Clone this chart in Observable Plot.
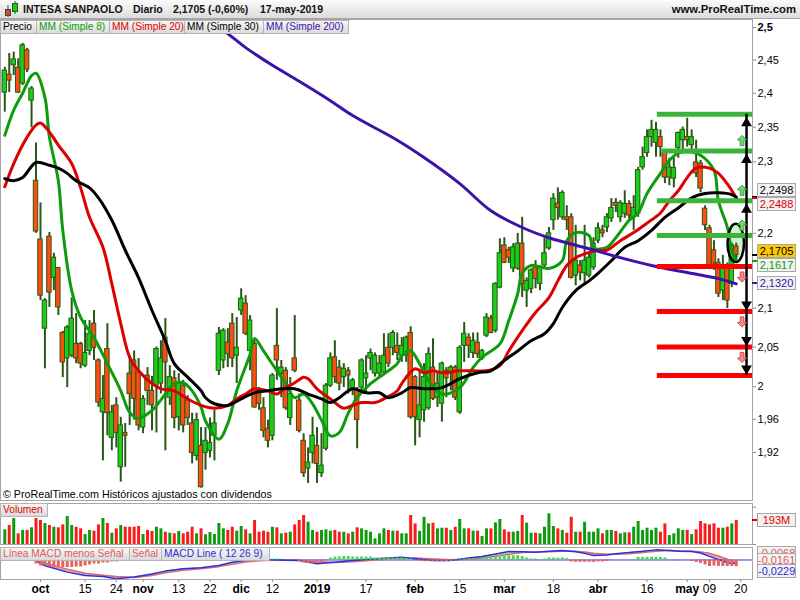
<!DOCTYPE html>
<html>
<head>
<meta charset="utf-8">
<script src="https://cdn.jsdelivr.net/npm/d3@7"></script>
<script src="https://cdn.jsdelivr.net/npm/@observablehq/plot@0.6"></script>
<style>
  html, body { margin: 0; padding: 0; background: #fff; }
  #root { position: relative; width: 800px; height: 600px; overflow: hidden; background: #fff;
          font-family: "Liberation Sans", Arial, sans-serif; color: #000; }
  .hdr { position: absolute; left: 0; top: 0; width: 800px; height: 18px;
         background: linear-gradient(#fbfbfb, #dcdcdc); border-bottom: 1px solid #a6a6a6; }
  .htxt { position: absolute; top: 3px; font-weight: bold; font-size: 10.5px; line-height: 13px; white-space: nowrap; color: #111; }
  .box { position: absolute; height: 12px; line-height: 12px; font-size: 10.2px; border: 1px solid #b4b4b4;
         background: linear-gradient(#f7f7f7, #dadada); padding: 0 0 0 2px; white-space: nowrap; overflow: hidden; box-sizing: content-box; }
  .val { position: absolute; left: 757px; width: 37px; height: 12px; line-height: 12px; font-size: 11px; text-align: center;
         border: 1px solid #a8a8a8; background: #f2f2f2; white-space: nowrap; overflow: hidden; }
  .mark { position: absolute; left: 752px; width: 5px; height: 2px; }
  .cap { position: absolute; left: 3px; top: 487px; font-size: 10.7px; line-height: 14px; white-space: nowrap; }
</style>
</head>
<body>
<div id="root"></div>
<script>
// ---------------- DATA (daily, 19-sep-2018 .. 17-may-2019, index = trading day) ----------------
const open = [
  2.401, 2.428, 2.442, 2.4385, 2.4145, 2.465, 2.389, 2.273, 2.1915, 2.0735,
  2.1955, 2.140, 2.153, 2.068, 2.0355, 2.039, 2.054, 2.054, 2.0265, 2.045,
  2.080, 2.033, 1.9685, 2.0475, 1.9375, 1.977, 1.9025, 1.9435, 2.0165, 2.033,
  2.018, 1.950, 2.014, 1.995, 2.0015, 2.004, 2.062, 1.9865, 2.0105, 1.9625,
  2.0015, 1.983, 1.955, 1.916, 1.928, 1.9195, 1.922, 1.940, 2.020, 2.033,
  2.0555, 2.080, 2.039, 2.097, 2.106, 2.045, 2.054, 1.995, 1.9735, 1.9485,
  1.940, 2.0515, 2.0165, 2.020, 1.9615, 2.0355, 1.983, 1.934, 1.901, 1.9195,
  1.928, 1.8955, 1.9245, 2.0015, 2.037, 2.024, 2.012, 2.020, 1.9975, 1.995,
  1.999, 2.0105, 2.0355, 2.0165, 2.0165, 2.018, 2.049, 2.049, 2.0515, 2.039,
  2.039, 2.068, 2.012, 1.959, 1.971, 1.9735, 2.024, 1.9865, 1.979, 2.020,
  2.0165, 2.024, 1.9685, 2.0515, 2.062, 2.0425, 2.0555, 2.0355, 2.0645, 2.0865,
  2.071, 2.127, 2.1835, 2.177, 2.1525, 2.1525, 2.186, 2.123, 2.1255, 2.154,
  2.132, 2.1565, 2.1795, 2.218, 2.241, 2.222, 2.222, 2.222, 2.143, 2.1565,
  2.146, 2.143, 2.154, 2.190, 2.204, 2.208, 2.2205, 2.242, 2.222, 2.227,
  2.2405, 2.222, 2.227, 2.292, 2.3125, 2.3355, 2.327, 2.3355, 2.3125, 2.2775,
  2.276, 2.320, 2.331, 2.3355, 2.324, 2.299, 2.2975, 2.234, 2.207, 2.177,
  2.160, 2.123, 2.1565, 2.132, 2.182
];
const high = [
  2.439, 2.460, 2.462, 2.452, 2.4755, 2.468, 2.410, 2.327, 2.242, 2.1125,
  2.201, 2.173, 2.154, 2.070, 2.0775, 2.1135, 2.093, 2.056, 2.084, 2.084,
  2.097, 2.035, 2.014, 2.080, 1.977, 1.9865, 1.9625, 1.955, 2.039, 2.045,
  2.0355, 1.989, 2.024, 2.013, 2.050, 2.058, 2.0865, 2.0265, 2.020, 2.0165,
  2.008, 1.989, 1.9675, 1.9675, 1.950, 1.950, 1.9615, 1.971, 2.075, 2.0735,
  2.0735, 2.093, 2.088, 2.1255, 2.1165, 2.0905, 2.058, 1.999, 1.9865, 1.959,
  2.0165, 2.0995, 2.033, 2.024, 2.0115, 2.0905, 1.991, 1.9425, 1.9255, 1.9625,
  1.950, 1.9425, 2.004, 2.0425, 2.058, 2.033, 2.029, 2.024, 2.0105, 1.999,
  2.035, 2.039, 2.0475, 2.0425, 2.039, 2.067, 2.067, 2.071, 2.068, 2.062,
  2.064, 2.076, 2.014, 2.020, 2.029, 2.049, 2.0605, 2.018, 2.031, 2.024,
  2.0265, 2.0265, 2.0515, 2.0815, 2.067, 2.068, 2.068, 2.047, 2.093, 2.0905,
  2.1335, 2.1925, 2.194, 2.181, 2.186, 2.200, 2.222, 2.140, 2.152, 2.163,
  2.156, 2.194, 2.208, 2.255, 2.263, 2.259, 2.238, 2.227, 2.211, 2.163,
  2.211, 2.173, 2.194, 2.214, 2.211, 2.227, 2.248, 2.248, 2.245, 2.259,
  2.245, 2.252, 2.292, 2.321, 2.346, 2.360, 2.357, 2.346, 2.314, 2.305,
  2.3065, 2.343, 2.350, 2.363, 2.346, 2.331, 2.302, 2.238, 2.211, 2.190,
  2.1655, 2.170, 2.160, 2.1865, 2.1865
];
const low = [
  2.372, 2.401, 2.4265, 2.3995, 2.4115, 2.431, 2.349, 2.200, 2.110, 2.0225,
  2.101, 2.123, 2.0905, 2.0115, 1.999, 2.0365, 2.029, 2.0225, 2.024, 2.039,
  2.033, 1.9745, 1.910, 1.940, 1.922, 1.9255, 1.885, 1.9025, 1.9525, 1.959,
  1.946, 1.9425, 1.977, 1.946, 1.9435, 1.991, 1.922, 1.977, 1.9485, 1.946,
  1.9435, 1.9525, 1.9065, 1.910, 1.878, 1.899, 1.9135, 1.910, 2.014, 2.0225,
  2.024, 2.024, 2.004, 2.0905, 2.0645, 2.020, 1.9735, 1.971, 1.9375, 1.9255,
  1.934, 2.008, 1.9865, 1.971, 1.9525, 2.0175, 1.9435, 1.8905, 1.8835, 1.9065,
  1.8835, 1.8905, 1.922, 1.999, 2.004, 1.995, 1.999, 1.991, 1.989, 1.9245,
  1.9925, 1.991, 2.020, 2.012, 2.0105, 2.016, 2.024, 2.039, 2.033, 2.0305,
  2.0305, 1.960, 1.928, 1.9375, 1.9565, 1.971, 1.983, 1.9745, 1.9565, 1.9865,
  1.995, 1.983, 1.966, 2.0305, 2.0355, 2.0355, 2.0355, 2.033, 2.062, 2.067,
  2.068, 2.1255, 2.159, 2.159, 2.147, 2.150, 2.114, 2.101, 2.119, 2.1255,
  2.123, 2.1525, 2.177, 2.204, 2.218, 2.218, 2.204, 2.1385, 2.1295, 2.136,
  2.132, 2.140, 2.150, 2.186, 2.194, 2.201, 2.215, 2.2285, 2.215, 2.2205,
  2.218, 2.204, 2.222, 2.288, 2.3065, 2.321, 2.3065, 2.3065, 2.269, 2.266,
  2.263, 2.305, 2.317, 2.321, 2.317, 2.2775, 2.256, 2.204, 2.1525, 2.150,
  2.114, 2.110, 2.0995, 2.127, 2.160
];
const close = [
  2.434, 2.419, 2.451, 2.401, 2.4725, 2.4355, 2.407, 2.2025, 2.1165, 2.110,
  2.1205, 2.167, 2.101, 2.0305, 2.075, 2.0865, 2.0355, 2.029, 2.0425, 2.067,
  2.049, 1.9805, 1.985, 1.9675, 1.9685, 1.9435, 1.9525, 1.940, 1.991, 1.985,
  1.9525, 1.985, 1.995, 1.977, 2.0475, 2.0355, 2.0305, 2.012, 1.9615, 2.004,
  1.9525, 1.9615, 1.9195, 1.959, 1.879, 1.934, 1.9315, 1.955, 2.067, 2.071,
  2.041, 2.0355, 2.049, 2.1125, 2.067, 2.084, 1.9745, 1.979, 1.946, 1.934,
  2.014, 2.033, 2.024, 1.9735, 1.991, 2.020, 1.946, 1.8955, 1.908, 1.940,
  1.9065, 1.9045, 2.0015, 2.0355, 2.012, 2.004, 2.0225, 2.014, 2.008, 1.959,
  2.033, 2.0165, 2.0425, 2.039, 2.029, 2.039, 2.029, 2.068, 2.0425, 2.0515,
  2.062, 1.9625, 1.9625, 1.977, 2.012, 2.041, 1.985, 2.004, 2.029, 2.0105,
  2.024, 1.9865, 2.049, 2.067, 2.0515, 2.058, 2.041, 2.045, 2.088, 2.068,
  2.132, 2.173, 2.160, 2.167, 2.181, 2.186, 2.132, 2.136, 2.150, 2.1385,
  2.154, 2.173, 2.200, 2.248, 2.235, 2.256, 2.218, 2.140, 2.163, 2.147,
  2.163, 2.167, 2.186, 2.207, 2.200, 2.222, 2.235, 2.238, 2.242, 2.2405,
  2.2245, 2.235, 2.288, 2.3065, 2.3355, 2.346, 2.346, 2.321, 2.2775, 2.292,
  2.291, 2.3415, 2.346, 2.331, 2.3355, 2.2835, 2.262, 2.211, 2.1565, 2.159,
  2.119, 2.1565, 2.110, 2.1836, 2.1705
];
// volume, millions of shares
const volume = [
  118,153,209,86,113,113,134,209,193,169,
  153,139,134,158,225,153,139,126,80,113,
  107,158,209,169,91,126,153,139,139,139,
  145,80,113,105,139,126,99,91,86,105,
  86,99,139,86,126,78,96,80,169,126,
  113,139,107,145,118,86,193,99,107,99,
  139,134,86,91,99,158,193,233,179,113,
  99,113,118,107,113,99,99,86,99,134,
  126,113,99,46,86,126,113,107,107,86,
  86,233,166,105,219,166,171,126,131,131,
  113,139,201,126,126,107,107,64,126,126,
  174,201,118,99,99,105,233,171,91,91,
  86,139,247,145,126,113,91,219,99,99,
  179,99,99,126,86,113,113,105,86,94,
  94,139,185,113,131,113,131,99,166,72,
  86,126,113,113,80,118,185,166,158,166,
  131,131,139,166,193
];
// moving averages (day index, value)
const ma8Day = [0,2,4,6,7,9,10,12,13,15,17,20,23,26,28,30,33,36,38,40,42,44,45,48,50,52,55,56,58,61,63,65,67,69,71,73,75,77,79,82,84,86,88,89,91,93,95,98,102,105,107,111,113,115,116,118,122,125,126,128,131,132,135,137,140,142,144,147,149,151,154,156,159,160,162,163,164];
const ma8Val = [2.338,2.375,2.400,2.4265,2.430,2.3935,2.3355,2.273,2.204,2.123,2.088,2.062,2.029,1.995,1.9685,1.961,1.971,1.991,2.004,2.005,1.995,1.975,1.958,1.936,1.955,1.995,2.041,2.061,2.045,2.020,2.004,1.9865,1.991,1.979,1.959,1.940,1.944,1.9675,1.9865,2.004,2.012,2.020,2.029,2.039,2.045,2.029,2.008,1.991,1.999,2.024,2.037,2.054,2.084,2.119,2.146,2.1565,2.1525,2.163,2.190,2.201,2.197,2.180,2.181,2.194,2.218,2.228,2.255,2.2835,2.302,2.3125,2.314,2.3095,2.288,2.245,2.208,2.177,2.1617];
const ma20Day = [0,2,5,7,8,10,12,15,17,19,22,24,26,28,30,33,35,38,41,44,47,50,52,54,56,59,61,63,65,67,68,70,73,76,78,80,83,85,88,89,92,94,96,98,102,105,108,111,113,116,119,122,124,126,128,131,133,135,138,141,144,147,149,151,153,155,158,160,162,164];
const ma20Val = [2.2645,2.2975,2.3355,2.353,2.356,2.343,2.324,2.2975,2.263,2.222,2.181,2.132,2.080,2.037,2.020,2.004,1.9975,1.995,1.985,1.977,1.9735,1.977,1.985,1.991,1.9975,1.995,1.991,1.999,2.005,2.012,2.010,1.9975,1.985,1.9735,1.977,1.9805,1.9805,1.985,1.995,2.004,2.0225,2.0175,2.020,2.0175,2.020,2.020,2.020,2.0265,2.045,2.071,2.0945,2.114,2.136,2.1565,2.167,2.174,2.177,2.177,2.190,2.201,2.214,2.228,2.245,2.259,2.2775,2.291,2.291,2.2835,2.2685,2.2488];
const ma30Day = [0,2,4,7,10,12,14,16,19,21,24,27,30,33,36,38,41,44,45,47,50,53,56,59,62,65,68,71,73,75,78,81,84,86,89,91,94,98,102,106,109,112,115,118,121,123,125,128,131,133,136,139,142,145,148,151,154,157,160,163,164];
const ma30Val = [2.276,2.273,2.2775,2.299,2.295,2.291,2.2835,2.273,2.263,2.249,2.218,2.177,2.140,2.097,2.058,2.029,2.012,1.995,1.9865,1.979,1.977,1.985,1.9925,1.995,1.9975,1.9975,1.991,1.985,1.9805,1.9865,1.9975,1.9925,1.9925,1.9865,1.9925,1.999,1.9975,1.999,2.010,2.0175,2.020,2.033,2.045,2.058,2.067,2.080,2.101,2.123,2.136,2.146,2.163,2.181,2.190,2.204,2.222,2.235,2.249,2.255,2.256,2.2535,2.2498];
const ma200Day = [44,49,54,60,66,73,78,88,94,102,109,116,122,131,138,145,153,160,164];
const ma200Val = [2.515,2.4955,2.469,2.442,2.418,2.389,2.367,2.331,2.306,2.269,2.231,2.208,2.194,2.179,2.167,2.1565,2.147,2.139,2.132];
// MACD (12 26 9)
const macdDay = [0,4,7,9,14,18,22,25,29,33,36,40,44,48,51,54,57,60,63,66,70,74,78,81,85,89,92,96,100,104,107,111,113,116,119,122,125,128,130,132,135,137,140,143,146,149,151,154,156,158,160,162,164];
const macdVal = [0.035,0.04,-0.005,-0.035,-0.073,-0.094,-0.1,-0.113,-0.103,-0.085,-0.067,-0.053,-0.046,-0.033,-0.014,-0.003,0.003,0.001,-0.001,-0.003,-0.023,-0.013,-0.003,0.003,0.01,0.016,0.008,-0.003,-0.003,0.012,0.021,0.041,0.051,0.05,0.047,0.052,0.057,0.05,0.04,0.027,0.03,0.037,0.045,0.052,0.061,0.057,0.053,0.051,0.042,0.022,0.002,-0.017,-0.0229];
const signalVal = [0.03,0.035,0.01,-0.02,-0.055,-0.08,-0.092,-0.1,-0.105,-0.093,-0.077,-0.062,-0.052,-0.04,-0.025,-0.012,-0.004,-0.002,-0.001,-0.001,-0.01,-0.015,-0.01,-0.004,0.004,0.011,0.012,0.006,0.001,0.004,0.012,0.026,0.035,0.045,0.048,0.049,0.053,0.053,0.048,0.04,0.034,0.034,0.038,0.045,0.053,0.057,0.056,0.053,0.049,0.04,0.025,0.005,-0.0161];
const histVal = [
  0.002,0.002,0.002,0.001,0.001,0,-0.001,-0.004,-0.006,-0.006,
  -0.007,-0.007,-0.007,-0.0075,-0.0075,-0.0075,-0.007,-0.007,-0.006,-0.005,
  -0.004,-0.004,-0.003,-0.003,-0.002,-0.002,-0.001,0,0.001,0.002,
  0.003,0.003,0.004,0.004,0.004,0.005,0.005,0.004,0.004,0.004,
  0.004,0.003,0.003,0.003,0.003,0.003,0.003,0.003,0.004,0.004,
  0.003,0.003,0.002,0.002,0.002,0.001,0.001,0,0,0,
  0.001,0.001,0,0,0,0,-0.002,-0.003,-0.0035,-0.0035,
  -0.003,-0.003,-0.001,0.002,0.003,0.003,0.0035,0.0035,0.003,0.003,
  0.003,0.003,0.003,0.002,0.002,0.002,0.002,0.002,0.002,0.002,
  0.0015,0.001,0,-0.001,-0.0017,-0.0017,-0.0017,-0.0017,-0.0017,-0.0015,
  -0.0015,-0.001,0.0005,0.001,0.001,0.001,0.001,0.001,0.0025,0.0025,
  0.0025,0.003,0.0043,0.0043,0.0043,0.0043,0.0035,0.002,0.001,0.001,
  0.0005,0.001,0.002,0.002,0.002,0.002,0.0015,-0.002,-0.0023,-0.0023,
  -0.0023,-0.0023,-0.0023,-0.002,-0.002,-0.0015,-0.0005,0,0,0,
  0,0.0005,0.0027,0.0027,0.0027,0.0027,0.0027,0.0025,0.002,0,
  -0.001,0,0,0,-0.0015,-0.0025,-0.0035,-0.005,-0.0065,-0.006,
  -0.0065,-0.0065,-0.0065,-0.0065,-0.0068
];
// drawn support / resistance levels
const greenLevels = [2.369, 2.3155, 2.245, 2.197];
const greenFrom = [146.3, 147.4, 146.3, 146.3];
const redLevels = [2.155, 2.0957, 2.050, 2.014];
const redFrom = [146.3, 146.3, 146.3, 146.3];
const arrowDay = 166.3, iconDay = 165.3;
const focusDay = 164, focusLow = 2.1604, focusHigh = 2.2124;
// axes
const yTicks = [1.92, 1.96, 2, 2.05, 2.1, 2.2, 2.3, 2.35, 2.4, 2.45, 2.5];
const tickDay = [8,18,25,31,39,46,53,60,70,81,92,102,112,123,133,144,153,158,165];
const tickLabel = ["oct","15","24","nov","13","22","dic","12","2019","17","feb","15","mar","18","abr","16","may","09","20"];
const monthLabels = new Set(["oct","nov","dic","2019","feb","mar","abr","may"]);

// ---------------- STYLE ----------------
const FONT = '"Liberation Sans", Arial, sans-serif';
const OUTLINE = "#2b5716", UPC = "#18d018", DNC = "#ff4c10";
const VUP = "#0e9c0e", VDN = "#fa1c1c";
const C8 = "#0c9c0c", C20 = "#dd0000", C30 = "#000000", C200 = "#3d12a8";
const xDomain = [-0.964, 167.64];
const baseStyle = {background: "transparent", color: "#000", fontFamily: FONT, fontSize: "11px", overflow: "visible"};
const comma = v => String(v).replace(".", ",");

const root = document.getElementById("root");
function put(el, top) { el.style.position = "absolute"; el.style.left = "0px"; el.style.top = top + "px"; root.appendChild(el); return el; }
function div(cls, left, top, text, extra) {
  const d = document.createElement("div"); d.className = cls;
  if (left != null) d.style.left = left + "px";
  if (top != null) d.style.top = top + "px";
  if (text != null) d.textContent = text;
  Object.assign(d.style, extra || {});
  root.appendChild(d); return d;
}

const candles = open.map((o, i) => ({i, open: o, high: high[i], low: low[i], close: close[i], vol: volume[i], hist: histVal[i]}));
const isUp = d => d.close >= d.open;
const series = (days, vals) => days.map((d, k) => ({i: d, v: vals[k]}));
const levels = [
  ...greenLevels.map((v, k) => ({v, from: greenFrom[k], c: "#3ab43a"})),
  ...redLevels.map((v, k) => ({v, from: redFrom[k], c: "#ff0000"}))
];
const arrowSymbol = {
  draw(ctx, size) {
    const s = Math.sqrt(size / Math.PI) / 4;
    ctx.moveTo(0, -6 * s); ctx.lineTo(5 * s, -1 * s); ctx.lineTo(2 * s, -1 * s); ctx.lineTo(2 * s, 5 * s);
    ctx.lineTo(-2 * s, 5 * s); ctx.lineTo(-2 * s, -1 * s); ctx.lineTo(-5 * s, -1 * s); ctx.closePath();
  }
};

// ---------------- PRICE PANEL ----------------
const price = Plot.plot({
  width: 800, height: 481, marginTop: 0, marginRight: 48, marginBottom: 0, marginLeft: 0,
  style: baseStyle,
  x: {domain: xDomain, axis: null},
  y: {type: "log", domain: [1.8636, 2.5125], axis: null},
  marks: [
    Plot.rect([focusDay], {x1: d => d - 1.85, x2: d => d + 1.85, y1: () => focusLow, y2: () => focusHigh, rx: 30, ry: 60, fill: "#b9ecb9", fillOpacity: 0.7}),
    Plot.ruleX(candles, {x: "i", y1: "low", y2: "high", stroke: OUTLINE, strokeWidth: 2}),
    Plot.rect(candles, {x1: d => d.i - 0.5, x2: d => d.i + 0.5, y1: "open", y2: "close", fill: d => isUp(d) ? UPC : DNC, stroke: OUTLINE, strokeWidth: 1}),
    Plot.line(series(ma8Day, ma8Val), {x: "i", y: "v", stroke: C8, strokeWidth: 3, curve: "catmull-rom", clip: true}),
    Plot.line(series(ma20Day, ma20Val), {x: "i", y: "v", stroke: C20, strokeWidth: 3, curve: "catmull-rom", clip: true}),
    Plot.line(series(ma30Day, ma30Val), {x: "i", y: "v", stroke: C30, strokeWidth: 3, curve: "catmull-rom", clip: true}),
    Plot.line(series(ma200Day, ma200Val), {x: "i", y: "v", stroke: C200, strokeWidth: 3, curve: "catmull-rom", clip: true}),
    Plot.rect([focusDay], {x1: d => d - 1.85, x2: d => d + 1.85, y1: () => focusLow, y2: () => focusHigh, rx: 30, ry: 60, fill: "none", stroke: "#000", strokeWidth: 2.5}),
    Plot.ruleY(levels, {y: "v", x1: "from", x2: () => xDomain[1], stroke: "c", strokeWidth: 5}),
    Plot.ruleX([arrowDay], {x: d => d, y1: () => greenLevels[0], y2: () => redLevels[3], stroke: "#000", strokeWidth: 2.5}),
    Plot.dot(greenLevels.slice(0, 3), {x: () => arrowDay, y: d => d, symbol: "triangle", r: 4, fill: "#000", stroke: "none", dy: 9}),
    Plot.dot(redLevels.slice(1), {x: () => arrowDay, y: d => d, symbol: "triangle", r: 4, rotate: 180, fill: "#000", stroke: "none", dy: -7}),
    Plot.dot(greenLevels.slice(1), {x: () => iconDay, y: d => d, symbol: arrowSymbol, r: 3.7, fill: "#72d872", stroke: "#36a036", strokeWidth: 1, dy: -10}),
    Plot.dot(redLevels.slice(0, 3), {x: () => iconDay, y: d => d, symbol: arrowSymbol, r: 3.7, rotate: 180, fill: "#f28c8c", stroke: "#d44a4a", strokeWidth: 1, dy: 10}),
    Plot.axisY({anchor: "right", ticks: yTicks, tickFormat: comma, tickSize: 3, tickPadding: 2, fontSize: 11, stroke: "#8c8c8c", label: null}),
    Plot.frame({stroke: "#a4a4a4"})
  ]
});
put(price, 19);
price.querySelectorAll("text").forEach(t => { if (t.textContent === "2,5") t.setAttribute("font-weight", "bold"); });

// ---------------- VOLUME PANEL ----------------
const vol = Plot.plot({
  width: 800, height: 41, marginTop: 0, marginRight: 48, marginBottom: 0, marginLeft: 0,
  style: baseStyle,
  x: {domain: xDomain, axis: null},
  y: {domain: [0, 329.7], axis: null},
  marks: [
    Plot.ruleX(candles, {x: "i", y1: () => 0, y2: "vol", stroke: d => isUp(d) ? VUP : VDN, strokeWidth: 3}),
    Plot.axisY({anchor: "right", ticks: [0, 300], tickFormat: () => "", tickSize: 3, stroke: "#8c8c8c", label: null}),
    Plot.frame({stroke: "#a4a4a4"})
  ]
});
put(vol, 503);

// ---------------- MACD PANEL ----------------
const macdRows = macdDay.map((d, k) => ({i: d, m: macdVal[k], s: signalVal[k]}));
const fillRows = [];
for (let k = 0; k < macdRows.length - 1; k++) {
  const a = macdRows[k], b = macdRows[k + 1];
  const pos = (a.m - a.s) + (b.m - b.s) >= 0;
  fillRows.push({seg: k, ...a, pos}, {seg: k, ...b, pos});
}
const macd = Plot.plot({
  width: 800, height: 53, marginTop: 0, marginRight: 48, marginBottom: 21, marginLeft: 0,
  style: baseStyle,
  x: {domain: xDomain, axis: null},
  y: {domain: [-0.1175, 0.0753], axis: null},
  marks: [
    Plot.areaY(fillRows, {x: "i", y1: "m", y2: "s", z: "seg", fill: d => d.pos ? "#a8e4a0" : "#f0a2a2"}),
    Plot.ruleY([0], {stroke: "#2a3ae0", strokeWidth: 1}),
    Plot.line(macdRows, {x: "i", y: "s", stroke: "#e06868", strokeWidth: 1.5}),
    Plot.line(macdRows, {x: "i", y: "m", stroke: "#2233e6", strokeWidth: 1.5}),
    Plot.axisX({ticks: tickDay, tickFormat: d => tickLabel[tickDay.indexOf(d)], tickSize: 3, tickPadding: 2, fontSize: 12, stroke: "#8c8c8c", label: null}),
    Plot.frame({stroke: "#a4a4a4"})
  ]
});
put(macd, 547);
macd.querySelectorAll("text").forEach(t => { if (monthLabels.has(t.textContent)) t.setAttribute("font-weight", "bold"); });

const hist = Plot.plot({
  width: 800, height: 32, marginTop: 0, marginRight: 48, marginBottom: 0, marginLeft: 0,
  style: baseStyle,
  x: {domain: xDomain, axis: null},
  y: {domain: [-0.0195, 0.0125], axis: null},
  marks: [
    Plot.ruleX(candles, {x: "i", y1: () => 0, y2: "hist", stroke: d => d.hist >= 0 ? "#4fd84f" : "#e8625e", strokeWidth: 3})
  ]
});
put(hist, 547);

// ---------------- TEXT / LEGENDS ----------------
const hdr = div("hdr", 0, 0);
hdr.innerHTML = '<svg width="16" height="17" style="position:absolute;left:3px;top:1px">' +
  '<line x1="5" y1="4" x2="5" y2="16" stroke="#2b5716"/><rect x="2.5" y="8.5" width="5" height="6" fill="#e04040" stroke="#2b5716"/>' +
  '<line x1="12" y1="0" x2="12" y2="13" stroke="#2b5716"/><rect x="9.5" y="2.5" width="5" height="8" fill="#18d018" stroke="#2b5716"/></svg>';
div("htxt", 23, 3, "INTESA SANPAOLO");
div("htxt", 133, 3, "Diario");
div("htxt", 173, 3, comma(close[close.length - 1]) + " (-0,60%)");
div("htxt", 260, 3, "17-may-2019");
div("htxt", null, 3, "www.ProRealTime.com", {right: "4px", fontSize: "11.3px"});

const legend = [
  ["Precio", 0, 33, "#000"], ["MM (Simple 8)", 36, 70, C8], ["MM (Simple 20)", 109, 72, C20],
  ["MM (Simple 30)", 184, 76, "#000"], ["MM (Simple 200)", 263, 82, C200]
];
legend.forEach(([t, x, w, c]) => div("box", x, 20, t, {width: w + "px", color: c}));
div("box", 0, 503, "Volumen", {width: "44px", color: "#e00000"});
div("box", 0, 547, "Línea MACD menos Señal", {width: "126px", color: "#e05a5a"});
div("box", 129, 547, "Señal", {width: "29px", color: "#e05a5a"});
div("box", 161, 547, "MACD Line ( 12 26 9)", {width: "105px", color: "#2a2adb"});
div("cap", 3, 487, "© ProRealTime.com  Históricos ajustados con dividendos");

// price value boxes on the right axis
const ys = price.scale("y");
const labels = [
  {v: ma30Val[ma30Val.length - 1], color: "#000"},
  {v: ma20Val[ma20Val.length - 1], color: C20},
  {v: close[close.length - 1], color: "#000", bg: "#fcc800"},
  {v: ma8Val[ma8Val.length - 1], color: C8},
  {v: ma200Val[ma200Val.length - 1], color: C200}
];
labels.forEach(l => { l.y = 19 + ys.apply(l.v); l.ly = l.y; });
labels.sort((a, b) => a.y - b.y);
for (let k = 1; k < labels.length; k++) {
  if (labels[k].ly - labels[k - 1].ly < 13.5) {
    const mid = (labels[k].y + labels[k - 1].y) / 2;
    labels[k - 1].ly = mid - 6.75; labels[k].ly = mid + 6.75;
  }
}
labels.forEach(l => {
  div("mark", 752, l.y - 1, null, {background: l.color});
  div("val", 757, l.ly - 7, l.v.toFixed(4).replace(".", ","), Object.assign({color: l.color}, l.bg ? {background: l.bg} : {}));
});
// volume value box
const yv = 503 + vol.scale("y").apply(volume[volume.length - 1]);
div("mark", 752, yv - 1, null, {background: "#e00000"});
div("val", 757, yv - 7, volume[volume.length - 1] + "M", {color: "#e00000"});
// MACD value boxes (stacked as on the original platform)
const ym = 547 + macd.scale("y").apply(macdVal[macdVal.length - 1]);
const hLast = histVal[histVal.length - 1], sLast = signalVal[signalVal.length - 1], mLast = macdVal[macdVal.length - 1];
div("val", 757, ym - 17, hLast.toFixed(4).replace(".", ","), {color: "#e05a5a"});
div("val", 757, ym - 10, sLast.toFixed(4).replace(".", ","), {color: "#e05a5a"});
div("val", 757, ym + 1, mLast.toFixed(4).replace(".", ","), {color: "#2a2adb"});
</script>
</body>
</html>
